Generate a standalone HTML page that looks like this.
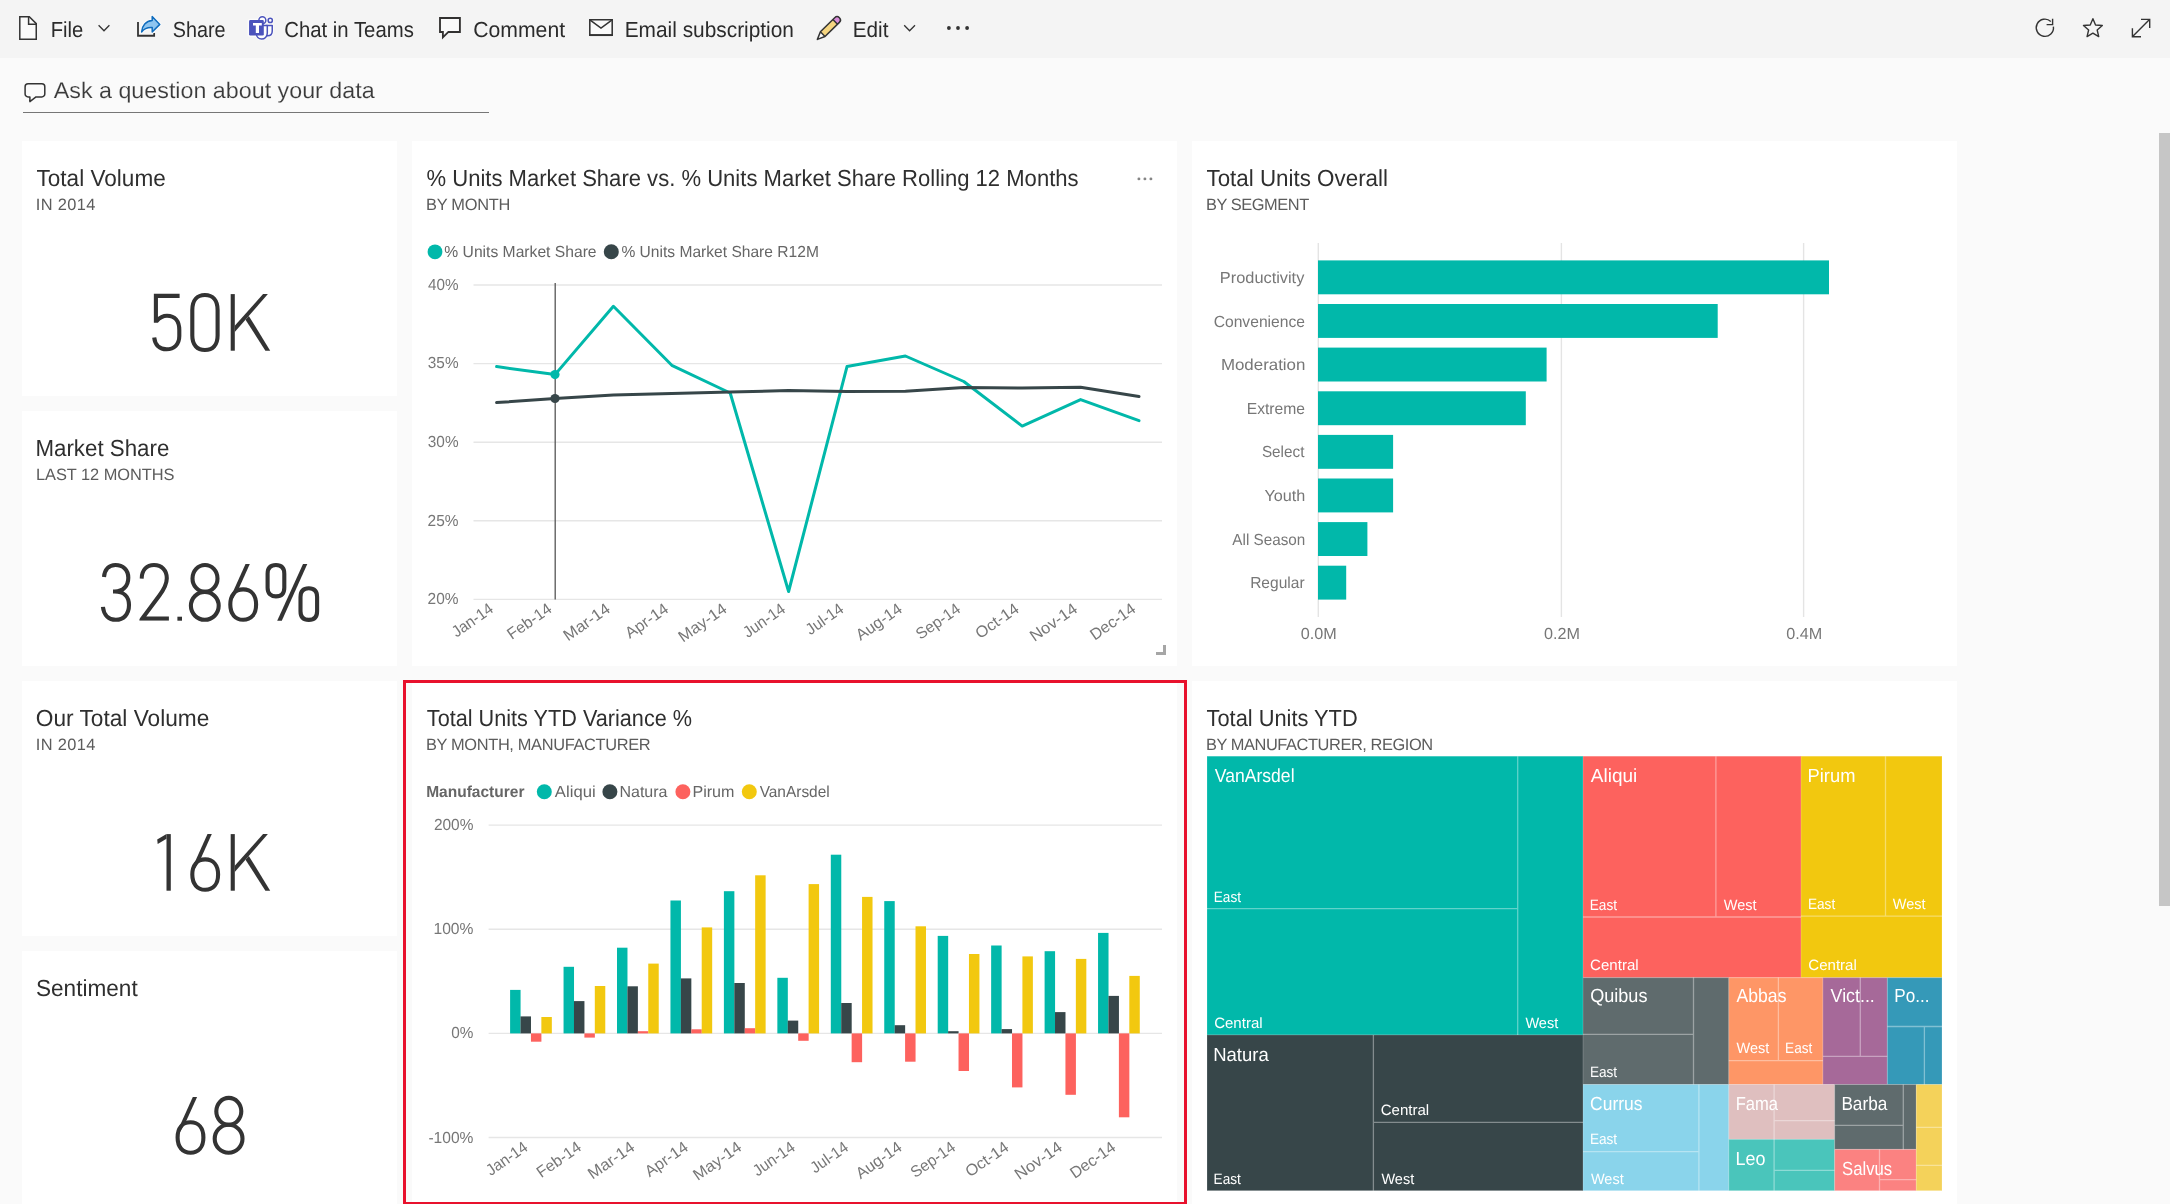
<!DOCTYPE html>
<html lang="en">
<head>
<meta charset="utf-8">
<title>Sales and Marketing Sample - Power BI</title>
<style>
html,body{margin:0;padding:0;background:#fafafa;overflow:hidden;}
body{width:2170px;height:1204px;position:relative;font-family:"Liberation Sans",sans-serif;}
svg{position:absolute;left:0;top:0;display:block;will-change:transform;}
text{font-family:"Liberation Sans",sans-serif;text-rendering:geometricPrecision;}
</style>
</head>
<body>
<svg width="2170" height="1204" viewBox="0 0 2170 1204">
<rect x="0" y="0" width="2170" height="1204" fill="#fafafa"/>
<rect x="0" y="0" width="2170" height="58" fill="#f4f4f4"/>
<rect x="2159" y="133" width="11" height="773" fill="#c6c6c6"/>
<rect x="22" y="141" width="375" height="255" fill="#ffffff"/>
<rect x="22" y="411" width="375" height="255" fill="#ffffff"/>
<rect x="22" y="681" width="375" height="255" fill="#ffffff"/>
<rect x="22" y="951" width="375" height="255" fill="#ffffff"/>
<rect x="412" y="141" width="765" height="525" fill="#ffffff"/>
<rect x="1192" y="141" width="765" height="525" fill="#ffffff"/>
<rect x="412" y="681" width="765" height="525" fill="#ffffff"/>
<rect x="1192" y="681" width="765" height="525" fill="#ffffff"/>
<rect x="404.5" y="681.5" width="781" height="522" fill="none" stroke="#e8112d" stroke-width="3"/>
<g id="topbar" fill="none" stroke="#333" stroke-width="1.5" stroke-linejoin="miter">
<path d="M19.8 16.8 H29.3 L36.25 23.6 V39.2 H19.8 Z" fill="#fafafa"/>
<path d="M28.6 16.8 V24.2 H36.25"/>
<path d="M98.6 25.2 L104 30.8 L109.4 25.2" stroke-width="1.3"/>
<path d="M904.2 25.2 L909.6 30.8 L915 25.2" stroke-width="1.3"/>
<path d="M138 22.1 V35.75 H154.15 V32.9" stroke-width="1.8"/>
<path d="M152.2 16.6 L159.8 24.4 L152.2 32 V27.6 C147.5 27.3 144 28.8 141.6 32 C142 25.6 146 21 152.2 20.6 Z" fill="none" stroke="#fcfcfc" stroke-width="3.2" stroke-linejoin="round"/>
<path d="M152.2 16.6 L159.8 24.4 L152.2 32 V27.6 C147.5 27.3 144 28.8 141.6 32 C142 25.6 146 21 152.2 20.6 Z" fill="#8ec5f0" stroke="#0f6cbd" stroke-width="1.5" stroke-linejoin="round"/>
<g fill="#fdfdfd" stroke="#fcfcfc" stroke-width="2.9" stroke-linejoin="round">
<circle cx="270.25" cy="20.4" r="2.1"/><path d="M266.5 25.55 H272.25 V31 C272.25 34 270.4 35.75 267.6 35.75 H266.5 Z"/>
<circle cx="262.35" cy="20.2" r="3.5"/><path d="M256.4 25.55 H267.3 V33 C267.3 36.7 264.6 39.05 261.6 39.05 C258.6 39.05 256.4 36.9 256.4 33.6 Z"/>
<rect x="249.05" y="20.1" width="14.75" height="15.4" rx="1.3"/>
</g>
<g fill="#fdfdfd" stroke="#4b53bc" stroke-width="1.5" stroke-linejoin="round">
<circle cx="270.25" cy="20.4" r="2.1"/>
<path d="M266.5 25.55 H272.25 V31 C272.25 34 270.4 35.75 267.6 35.75 H266.5 Z"/>
<circle cx="262.35" cy="20.2" r="3.5"/>
<path d="M256.4 25.55 H267.3 V33 C267.3 36.7 264.6 39.05 261.6 39.05 C258.6 39.05 256.4 36.9 256.4 33.6 Z"/>
<rect x="249.05" y="20.1" width="14.75" height="15.4" rx="1.3" fill="#4b53bc" stroke="none"/>
<path d="M253 23 H261.8 V25.6 H259 V33 H255.8 V25.6 H253 Z" fill="#ffffff" stroke="none"/>
</g>
<path d="M440 18 H459.9 V31.95 H448.4 L442.9 37.4 V31.95 H440 Z" stroke-width="1.85" fill="#fafafa" stroke="#323130"/>
<path d="M589.8 19.8 H612.2 V35.1 H589.8 Z" stroke-width="1.55" fill="#fafafa"/><path d="M589.4 35.15 H612.6" stroke-width="1.8"/><path d="M590.2 20.2 L601 28.1 L611.8 20.2" stroke-width="1.5"/>
<path d="M820.4 31.8 L832.9 19.5 L837.5 24.2 L825 36.5 Z" fill="#f5d580" stroke="none"/>
<path d="M832.9 19.5 L834.7 17.7 A3.3 3.3 0 0 1 839.4 22.4 L837.5 24.2 Z" fill="#d88bd8" stroke="none"/>
<path d="M820.4 31.8 L825 36.5 L817.4 39.4 Z" fill="#fafafa" stroke="none"/>
<path d="M820.4 31.8 L834.7 17.7 A3.3 3.3 0 0 1 839.4 22.4 L825 36.5 L817.4 39.4 Z M832.9 19.5 L837.5 24.2 M820.4 31.8 L825 36.5" stroke-width="1.5" stroke-linejoin="round"/>
<g stroke="none" fill="#333"><circle cx="948.9" cy="28" r="1.9"/><circle cx="958" cy="28" r="1.9"/><circle cx="967.1" cy="28" r="1.9"/></g>
<path d="M2050.8 21.5 A8.6 8.6 0 1 0 2053.4 26.6" stroke-width="1.4"/>
<path d="M2052.6 18.8 V24.6 H2046.6" stroke-width="1.4"/>
<polygon points="2092.90,18.70 2095.55,24.96 2102.32,25.54 2097.18,29.99 2098.72,36.61 2092.90,33.10 2087.08,36.61 2088.62,29.99 2083.48,25.54 2090.25,24.96" stroke-width="1.4" stroke-linejoin="round"/>
<path d="M2141 19.4 H2149.7 V28 M2149.5 19.6 L2132.6 36.5 M2132.4 28.2 V36.7 H2141" stroke-width="1.4"/>
</g>
<g id="topbar-text">
<text x="50.74" y="37.2" font-size="21.8" fill="#2b2b2b" textLength="32.56" lengthAdjust="spacingAndGlyphs">File</text>
<text x="172.7" y="37.2" font-size="21.8" fill="#2b2b2b" textLength="52.78" lengthAdjust="spacingAndGlyphs">Share</text>
<text x="284.29" y="37.2" font-size="21.8" fill="#2b2b2b" textLength="129.53" lengthAdjust="spacingAndGlyphs">Chat in Teams</text>
<text x="473.22" y="37.2" font-size="21.8" fill="#2b2b2b" textLength="91.83" lengthAdjust="spacingAndGlyphs">Comment</text>
<text x="624.69" y="37.2" font-size="21.8" fill="#2b2b2b" textLength="169.27" lengthAdjust="spacingAndGlyphs">Email subscription</text>
<text x="852.8" y="37.2" font-size="21.8" fill="#2b2b2b" textLength="35.65" lengthAdjust="spacingAndGlyphs">Edit</text>
</g>
<g id="qna" fill="none" stroke="#444" stroke-width="1.4">
<path d="M28.1 83.8 H41.8 A3 3 0 0 1 44.8 86.8 V93.9 A3 3 0 0 1 41.8 96.9 H36 L29.9 101.6 V96.9 H28.1 A3 3 0 0 1 25.1 93.9 V86.8 A3 3 0 0 1 28.1 83.8 Z" stroke="#333" stroke-width="1.5" stroke-linejoin="round"/>
<path d="M23 112.5 H489" stroke="#767676" stroke-width="1.2"/>
</g>
<text x="53.75" y="98.2" font-size="22.5" fill="#3a3a3a" textLength="320.85" lengthAdjust="spacingAndGlyphs" stroke="#fafafa" stroke-width="0.15">Ask a question about your data</text>
<text x="36.51" y="186" font-size="23.26" fill="#2f2f2f" textLength="129.27" lengthAdjust="spacingAndGlyphs">Total Volume</text>
<text x="35.79" y="210" font-size="16.4" fill="#5c5c5c" textLength="59.69" lengthAdjust="spacing">IN 2014</text>
<text x="35.47" y="456" font-size="23.26" fill="#2f2f2f" textLength="133.82" lengthAdjust="spacingAndGlyphs">Market Share</text>
<text x="35.95" y="480" font-size="16.4" fill="#5c5c5c" textLength="138.6" lengthAdjust="spacing">LAST 12 MONTHS</text>
<text x="35.75" y="726" font-size="23.26" fill="#2f2f2f" textLength="173.63" lengthAdjust="spacingAndGlyphs">Our Total Volume</text>
<text x="35.79" y="750" font-size="16.4" fill="#5c5c5c" textLength="59.69" lengthAdjust="spacing">IN 2014</text>
<text x="35.97" y="996" font-size="23.26" fill="#2f2f2f" textLength="101.69" lengthAdjust="spacingAndGlyphs">Sentiment</text>
<defs><clipPath id="clip2"><rect x="0.4" y="-2" width="31" height="58.6"/></clipPath></defs>
<g fill="none" stroke="#333" stroke-width="4.1">
<g transform="translate(152 294.1)"><path d="M27.6 1.75 H3.9 V28.7 M4.6 27 C8 23.2 11.2 21.7 15 21.7 C23 21.7 27.3 27 27.3 36 V42 C27.3 50.4 22 55.2 14.6 55.2 C7.6 55.2 3 51 2.2 43.4" /></g>
<g transform="translate(190.2 294.1)"><path d="M2.1 16 C2.1 6 7 0.9 14.75 0.9 C22.5 0.9 27.4 6 27.4 16 V41.4 C27.4 51 22.5 55.9 14.75 55.9 C7 55.9 2.1 51 2.1 41.4 Z"/></g>
<g transform="translate(230.7 294.1)"><g stroke="none" fill="#333"><rect x="0" y="0" width="4.1" height="56.6"/><polygon points="32.4,0 37.2,0 4.05,37.9 4.05,31.6"/><polygon points="14.8,25.6 18.1,21.8 39.5,56.6 34.7,56.6"/></g></g>
</g>
<g fill="none" stroke="#333" stroke-width="4.1">
<g transform="translate(100.8 564.1)"><path d="M3.2 12.9 C4 5 8.5 0.9 14.6 0.9 C22.3 0.9 27.5 5.8 27.5 13.6 C27.5 22 22 27.4 14 27.4 H12.2 M14 27.4 C23 27.4 28.2 32.6 28.2 41 C28.2 50.4 22.6 55.7 15 55.7 C8 55.7 3 51.2 2.1 42.8"/></g>
<g transform="translate(139 564.1)"><path clip-path="url(#clip2)" d="M2.6 14.6 C3 5.6 8 0.9 15 0.9 C22.6 0.9 27.8 6 27.8 14.2 C27.8 20.6 25.2 25 20.4 31.4 L3.2 54.5 H29.9" stroke-linejoin="miter"/></g>
<g transform="translate(177.4 564.1)"><rect x="0" y="52.6" width="4.6" height="4" stroke="none" fill="#333"/></g>
<g transform="translate(188.8 564.1)"><ellipse cx="16.2" cy="14.35" rx="12.5" ry="13.45"/><ellipse cx="16" cy="41.75" rx="13.9" ry="13.95"/></g>
<g transform="translate(228.2 564.1)"><path d="M2.0999999999999996 40.5 C2.0999999999999996 31.08 7.00 25.3 15 25.3 C23.00 25.3 27.9 31.08 27.9 40.5 C27.9 49.92 23.00 55.7 15 55.7 C7.00 55.7 2.0999999999999996 49.92 2.0999999999999996 40.5 Z"/><polygon points="17.3,0 21.6,0 9.6,26.6 4.3,35.5 2.9,32" stroke="none" fill="#333"/><path d="M19.45 0 L6.2 28.8 C3.6 34.5 2.1 37.2 2.1 40.5" stroke-linecap="butt" stroke="none"/></g>
<g transform="translate(265.6 564.1)"><path d="M2 9.6 C2 3.6 5.4 0.9 10.35 0.9 C15.3 0.9 18.7 3.6 18.7 9.6 V23.6 C18.7 29.6 15.3 32.3 10.35 32.3 C5.4 32.3 2 29.6 2 23.6 Z"/><path d="M34.9 32.9 C34.9 26.9 38.3 24.2 43.2 24.2 C48.1 24.2 51.5 26.9 51.5 32.9 V47.1 C51.5 53.1 48.1 55.8 43.2 55.8 C38.3 55.8 34.9 53.1 34.9 47.1 Z"/><polygon points="37.4,0 41.7,0 16.2,56.6 11.6,56.6" stroke="none" fill="#333"/></g>
</g>
<g fill="none" stroke="#333" stroke-width="4.1">
<g transform="translate(157.2 834.1)"><g stroke="none" fill="#333"><rect x="9.3" y="0" width="4.3" height="56.6"/><polygon points="9.3,0 0,5.3 0.5,9.9 9.3,4.6"/></g></g>
<g transform="translate(190.2 834.1)"><path d="M2.0999999999999996 40.5 C2.0999999999999996 31.08 7.00 25.3 15 25.3 C23.00 25.3 27.9 31.08 27.9 40.5 C27.9 49.92 23.00 55.7 15 55.7 C7.00 55.7 2.0999999999999996 49.92 2.0999999999999996 40.5 Z"/><polygon points="17.3,0 21.6,0 9.6,26.6 4.3,35.5 2.9,32" stroke="none" fill="#333"/><path d="M19.45 0 L6.2 28.8 C3.6 34.5 2.1 37.2 2.1 40.5" stroke-linecap="butt" stroke="none"/></g>
<g transform="translate(230.7 834.1)"><g stroke="none" fill="#333"><rect x="0" y="0" width="4.1" height="56.6"/><polygon points="32.4,0 37.2,0 4.05,37.9 4.05,31.6"/><polygon points="14.8,25.6 18.1,21.8 39.5,56.6 34.7,56.6"/></g></g>
</g>
<g fill="none" stroke="#333" stroke-width="4.1">
<g transform="translate(175.5 1097)"><path d="M2.0999999999999996 40.5 C2.0999999999999996 31.08 7.00 25.3 15 25.3 C23.00 25.3 27.9 31.08 27.9 40.5 C27.9 49.92 23.00 55.7 15 55.7 C7.00 55.7 2.0999999999999996 49.92 2.0999999999999996 40.5 Z"/><polygon points="17.3,0 21.6,0 9.6,26.6 4.3,35.5 2.9,32" stroke="none" fill="#333"/><path d="M19.45 0 L6.2 28.8 C3.6 34.5 2.1 37.2 2.1 40.5" stroke-linecap="butt" stroke="none"/></g>
<g transform="translate(212.6 1097)"><ellipse cx="16.2" cy="14.35" rx="12.5" ry="13.45"/><ellipse cx="16" cy="41.75" rx="13.9" ry="13.95"/></g>
</g>
<g id="tile-linechart">
<text x="426.51" y="186" font-size="23.26" fill="#2f2f2f" textLength="652.08" lengthAdjust="spacingAndGlyphs">% Units Market Share vs. % Units Market Share Rolling 12 Months</text>
<text x="425.95" y="210" font-size="16.4" fill="#5c5c5c" textLength="84.48" lengthAdjust="spacing">BY MONTH</text>
<g fill="#858585"><circle cx="1138.9" cy="178.9" r="1.45"/><circle cx="1144.9" cy="178.9" r="1.45"/><circle cx="1150.9" cy="178.9" r="1.45"/></g>
<circle cx="435" cy="251.8" r="7.4" fill="#01b8aa"/>
<text x="444.34" y="256.8" font-size="16" fill="#666" textLength="152.25" lengthAdjust="spacingAndGlyphs">% Units Market Share</text>
<circle cx="611.3" cy="251.8" r="7.5" fill="#374649"/>
<text x="621.44" y="256.8" font-size="16" fill="#666" textLength="197.43" lengthAdjust="spacingAndGlyphs">% Units Market Share R12M</text>
<path d="M473.5 285 H1162" stroke="#e6e6e6" stroke-width="1.4" fill="none"/>
<text x="428.05" y="289.8" font-size="16" fill="#777777" textLength="30.49" lengthAdjust="spacingAndGlyphs">40%</text>
<path d="M473.5 363.6 H1162" stroke="#e6e6e6" stroke-width="1.4" fill="none"/>
<text x="427.82" y="368.40000000000003" font-size="16" fill="#777777" textLength="30.73" lengthAdjust="spacingAndGlyphs">35%</text>
<path d="M473.5 442.2 H1162" stroke="#e6e6e6" stroke-width="1.4" fill="none"/>
<text x="427.82" y="447.0" font-size="16" fill="#777777" textLength="30.73" lengthAdjust="spacingAndGlyphs">30%</text>
<path d="M473.5 520.8 H1162" stroke="#e6e6e6" stroke-width="1.4" fill="none"/>
<text x="427.62" y="525.5999999999999" font-size="16" fill="#777777" textLength="30.93" lengthAdjust="spacingAndGlyphs">25%</text>
<path d="M473.5 599.4 H1162" stroke="#e6e6e6" stroke-width="1.4" fill="none"/>
<text x="427.62" y="604.1999999999999" font-size="16" fill="#777777" textLength="30.93" lengthAdjust="spacingAndGlyphs">20%</text>
<path d="M555.2 283 V599.4" stroke="#555" stroke-width="1.3" fill="none"/>
<polyline points="496.6,366.6 555.0,374.6 613.4,306.3 671.8,365.3 730.2,393.0 788.6,591.5 847.0,366.6 905.4,356.0 963.8,381.5 1022.2,426.1 1080.6,399.6 1139.0,420.7" fill="none" stroke="#01b8aa" stroke-width="3" stroke-linejoin="round" stroke-linecap="round"/>
<polyline points="496.6,402.6 555.0,398.5 613.4,394.9 671.8,393.5 730.2,392.1 788.6,390.5 847.0,391.6 905.4,391.3 963.8,387.5 1022.2,388.0 1080.6,387.2 1139.0,396.5" fill="none" stroke="#374649" stroke-width="3" stroke-linejoin="round" stroke-linecap="round"/>
<circle cx="555.0" cy="374.6" r="4.6" fill="#01b8aa"/>
<circle cx="555.0" cy="398.5" r="4.6" fill="#374649"/>
<text transform="translate(494.46 611.25) rotate(-35)" x="0" y="0" font-size="16" fill="#777777" textLength="46.38" lengthAdjust="spacingAndGlyphs" text-anchor="end">Jan-14</text>
<text transform="translate(552.88 611.24) rotate(-35)" x="0" y="0" font-size="16" fill="#777777" textLength="50.16" lengthAdjust="spacingAndGlyphs" text-anchor="end">Feb-14</text>
<text transform="translate(611.3 611.22) rotate(-35)" x="0" y="0" font-size="16" fill="#777777" textLength="52.75" lengthAdjust="spacingAndGlyphs" text-anchor="end">Mar-14</text>
<text transform="translate(669.69 611.23) rotate(-35)" x="0" y="0" font-size="16" fill="#777777" textLength="48.61" lengthAdjust="spacingAndGlyphs" text-anchor="end">Apr-14</text>
<text transform="translate(728.09 611.22) rotate(-35)" x="0" y="0" font-size="16" fill="#777777" textLength="54.93" lengthAdjust="spacingAndGlyphs" text-anchor="end">May-14</text>
<text transform="translate(786.47 611.24) rotate(-35)" x="0" y="0" font-size="16" fill="#777777" textLength="47.29" lengthAdjust="spacingAndGlyphs" text-anchor="end">Jun-14</text>
<text transform="translate(844.87 611.24) rotate(-35)" x="0" y="0" font-size="16" fill="#777777" textLength="42.2" lengthAdjust="spacingAndGlyphs" text-anchor="end">Jul-14</text>
<text transform="translate(903.29 611.23) rotate(-35)" x="0" y="0" font-size="16" fill="#777777" textLength="52.1" lengthAdjust="spacingAndGlyphs" text-anchor="end">Aug-14</text>
<text transform="translate(961.68 611.24) rotate(-35)" x="0" y="0" font-size="16" fill="#777777" textLength="50.26" lengthAdjust="spacingAndGlyphs" text-anchor="end">Sep-14</text>
<text transform="translate(1020.09 611.22) rotate(-35)" x="0" y="0" font-size="16" fill="#777777" textLength="48.95" lengthAdjust="spacingAndGlyphs" text-anchor="end">Oct-14</text>
<text transform="translate(1078.5 611.22) rotate(-35)" x="0" y="0" font-size="16" fill="#777777" textLength="53.76" lengthAdjust="spacingAndGlyphs" text-anchor="end">Nov-14</text>
<text transform="translate(1136.89 611.23) rotate(-35)" x="0" y="0" font-size="16" fill="#777777" textLength="51.58" lengthAdjust="spacingAndGlyphs" text-anchor="end">Dec-14</text>
<path d="M1156 652 H1163 V645 H1166 V655 H1156 Z" fill="#a6a6a6"/>
</g>
<g id="tile-barchart">
<text x="1206.5" y="186" font-size="23.26" fill="#2f2f2f" textLength="181.47" lengthAdjust="spacingAndGlyphs">Total Units Overall</text>
<text x="1205.95" y="210" font-size="16.4" fill="#5c5c5c" textLength="103.22" lengthAdjust="spacing">BY SEGMENT</text>
<path d="M1318.3 243 V617" stroke="#e4e4e4" stroke-width="1.4" fill="none"/>
<text x="1318.85" y="638.7" font-size="16" fill="#777777" textLength="35.96" lengthAdjust="spacingAndGlyphs" text-anchor="middle">0.0M</text>
<path d="M1561.4 243 V617" stroke="#e4e4e4" stroke-width="1.4" fill="none"/>
<text x="1561.95" y="638.7" font-size="16" fill="#777777" textLength="35.96" lengthAdjust="spacingAndGlyphs" text-anchor="middle">0.2M</text>
<path d="M1803.6 243 V617" stroke="#e4e4e4" stroke-width="1.4" fill="none"/>
<text x="1804.15" y="638.7" font-size="16" fill="#777777" textLength="35.96" lengthAdjust="spacingAndGlyphs" text-anchor="middle">0.4M</text>
<rect x="1318" y="260.4" width="511.0" height="33.9" fill="#01b8aa"/>
<text x="1304.33" y="282.9" font-size="16" fill="#777777" textLength="84.47" lengthAdjust="spacingAndGlyphs" text-anchor="end">Productivity</text>
<rect x="1318" y="304.0" width="399.7" height="33.9" fill="#01b8aa"/>
<text x="1304.99" y="326.6" font-size="16" fill="#777777" textLength="91.29" lengthAdjust="spacingAndGlyphs" text-anchor="end">Convenience</text>
<rect x="1318" y="347.6" width="228.6" height="33.9" fill="#01b8aa"/>
<text x="1305.4" y="370.2" font-size="16" fill="#777777" textLength="84.48" lengthAdjust="spacingAndGlyphs" text-anchor="end">Moderation</text>
<rect x="1318" y="391.3" width="207.8" height="33.9" fill="#01b8aa"/>
<text x="1305.0" y="413.8" font-size="16" fill="#777777" textLength="58.28" lengthAdjust="spacingAndGlyphs" text-anchor="end">Extreme</text>
<rect x="1318" y="434.9" width="75.1" height="33.9" fill="#01b8aa"/>
<text x="1304.41" y="457.4" font-size="16" fill="#777777" textLength="42.51" lengthAdjust="spacingAndGlyphs" text-anchor="end">Select</text>
<rect x="1318" y="478.5" width="75.1" height="33.9" fill="#01b8aa"/>
<text x="1305.32" y="501.1" font-size="16" fill="#777777" textLength="40.86" lengthAdjust="spacingAndGlyphs" text-anchor="end">Youth</text>
<rect x="1318" y="522.1" width="49.4" height="33.9" fill="#01b8aa"/>
<text x="1305.29" y="544.7" font-size="16" fill="#777777" textLength="72.92" lengthAdjust="spacingAndGlyphs" text-anchor="end">All Season</text>
<rect x="1318" y="565.7" width="28.2" height="33.9" fill="#01b8aa"/>
<text x="1304.56" y="588.3" font-size="16" fill="#777777" textLength="54.43" lengthAdjust="spacingAndGlyphs" text-anchor="end">Regular</text>
</g>
<g id="tile-colchart">
<text x="426.82" y="726" font-size="23.26" fill="#2f2f2f" textLength="265.24" lengthAdjust="spacingAndGlyphs">Total Units YTD Variance %</text>
<text x="425.95" y="750" font-size="16.4" fill="#5c5c5c" textLength="224.61" lengthAdjust="spacing">BY MONTH, MANUFACTURER</text>
<text x="426.16" y="797" font-size="16" fill="#666" textLength="98.27" lengthAdjust="spacingAndGlyphs" font-weight="bold">Manufacturer</text>
<circle cx="544.3" cy="791.7" r="7.5" fill="#01b8aa"/>
<text x="554.87" y="796.8" font-size="16" fill="#666" textLength="40.76" lengthAdjust="spacingAndGlyphs">Aliqui</text>
<circle cx="609.9" cy="791.7" r="7.5" fill="#374649"/>
<text x="619.49" y="796.8" font-size="16" fill="#666" textLength="48.01" lengthAdjust="spacingAndGlyphs">Natura</text>
<circle cx="682.9" cy="791.7" r="7.5" fill="#fd625e"/>
<text x="692.48" y="796.8" font-size="16" fill="#666" textLength="41.98" lengthAdjust="spacingAndGlyphs">Pirum</text>
<circle cx="749.3" cy="791.7" r="7.5" fill="#f2c80f"/>
<text x="759.63" y="796.8" font-size="16" fill="#666" textLength="70.08" lengthAdjust="spacingAndGlyphs">VanArsdel</text>
<path d="M488.6 825.1 H1162" stroke="#e6e6e6" stroke-width="1.4" fill="none"/>
<text x="473.45" y="830.1" font-size="16" fill="#777777" textLength="39.53" lengthAdjust="spacingAndGlyphs" text-anchor="end">200%</text>
<path d="M488.6 929.2 H1162" stroke="#e6e6e6" stroke-width="1.4" fill="none"/>
<text x="473.46" y="934.2" font-size="16" fill="#777777" textLength="39.95" lengthAdjust="spacingAndGlyphs" text-anchor="end">100%</text>
<path d="M488.6 1033.4 H1162" stroke="#e6e6e6" stroke-width="1.4" fill="none"/>
<text x="473.45" y="1038.4" font-size="16" fill="#777777" textLength="22.14" lengthAdjust="spacingAndGlyphs" text-anchor="end">0%</text>
<path d="M488.6 1137.5 H1162" stroke="#e6e6e6" stroke-width="1.4" fill="none"/>
<text x="473.46" y="1142.5" font-size="16" fill="#777777" textLength="45.05" lengthAdjust="spacingAndGlyphs" text-anchor="end">-100%</text>
<rect x="510.10" y="989.9" width="10.47" height="43.5" fill="#01b8aa"/>
<rect x="520.52" y="1016.4" width="10.47" height="17.0" fill="#374649"/>
<rect x="530.94" y="1033.4" width="10.47" height="8.3" fill="#fd625e"/>
<rect x="541.36" y="1017.0" width="10.47" height="16.4" fill="#f2c80f"/>
<text transform="translate(528.86 1149.55) rotate(-35)" x="0" y="0" font-size="16" fill="#777777" textLength="46.38" lengthAdjust="spacingAndGlyphs" text-anchor="end">Jan-14</text>
<rect x="563.55" y="966.8" width="10.47" height="66.6" fill="#01b8aa"/>
<rect x="573.97" y="1001.1" width="10.47" height="32.3" fill="#374649"/>
<rect x="584.39" y="1033.4" width="10.47" height="4.2" fill="#fd625e"/>
<rect x="594.81" y="986.0" width="10.47" height="47.4" fill="#f2c80f"/>
<text transform="translate(582.38 1149.54) rotate(-35)" x="0" y="0" font-size="16" fill="#777777" textLength="50.16" lengthAdjust="spacingAndGlyphs" text-anchor="end">Feb-14</text>
<rect x="617.00" y="947.7" width="10.47" height="85.7" fill="#01b8aa"/>
<rect x="627.42" y="986.3" width="10.47" height="47.1" fill="#374649"/>
<rect x="637.84" y="1031.2" width="10.47" height="2.2" fill="#fd625e"/>
<rect x="648.26" y="963.6" width="10.47" height="69.8" fill="#f2c80f"/>
<text transform="translate(635.8 1149.52) rotate(-35)" x="0" y="0" font-size="16" fill="#777777" textLength="52.75" lengthAdjust="spacingAndGlyphs" text-anchor="end">Mar-14</text>
<rect x="670.45" y="900.5" width="10.47" height="132.9" fill="#01b8aa"/>
<rect x="680.87" y="978.4" width="10.47" height="55.0" fill="#374649"/>
<rect x="691.29" y="1029.3" width="10.47" height="4.1" fill="#fd625e"/>
<rect x="701.71" y="927.4" width="10.47" height="106.0" fill="#f2c80f"/>
<text transform="translate(689.29 1149.53) rotate(-35)" x="0" y="0" font-size="16" fill="#777777" textLength="48.61" lengthAdjust="spacingAndGlyphs" text-anchor="end">Apr-14</text>
<rect x="723.90" y="891.2" width="10.47" height="142.2" fill="#01b8aa"/>
<rect x="734.32" y="983.0" width="10.47" height="50.4" fill="#374649"/>
<rect x="744.74" y="1028.2" width="10.47" height="5.2" fill="#fd625e"/>
<rect x="755.16" y="875.3" width="10.47" height="158.1" fill="#f2c80f"/>
<text transform="translate(742.69 1149.52) rotate(-35)" x="0" y="0" font-size="16" fill="#777777" textLength="54.93" lengthAdjust="spacingAndGlyphs" text-anchor="end">May-14</text>
<rect x="777.35" y="977.8" width="10.47" height="55.6" fill="#01b8aa"/>
<rect x="787.77" y="1020.6" width="10.47" height="12.8" fill="#374649"/>
<rect x="798.19" y="1033.4" width="10.47" height="7.4" fill="#fd625e"/>
<rect x="808.61" y="884.1" width="10.47" height="149.3" fill="#f2c80f"/>
<text transform="translate(796.17 1149.54) rotate(-35)" x="0" y="0" font-size="16" fill="#777777" textLength="47.29" lengthAdjust="spacingAndGlyphs" text-anchor="end">Jun-14</text>
<rect x="830.80" y="854.7" width="10.47" height="178.7" fill="#01b8aa"/>
<rect x="841.22" y="1003.0" width="10.47" height="30.4" fill="#374649"/>
<rect x="851.64" y="1033.4" width="10.47" height="28.8" fill="#fd625e"/>
<rect x="862.06" y="896.9" width="10.47" height="136.5" fill="#f2c80f"/>
<text transform="translate(849.57 1149.54) rotate(-35)" x="0" y="0" font-size="16" fill="#777777" textLength="42.2" lengthAdjust="spacingAndGlyphs" text-anchor="end">Jul-14</text>
<rect x="884.25" y="901.1" width="10.47" height="132.3" fill="#01b8aa"/>
<rect x="894.67" y="1025.2" width="10.47" height="8.2" fill="#374649"/>
<rect x="905.09" y="1033.4" width="10.47" height="28.3" fill="#fd625e"/>
<rect x="915.51" y="926.3" width="10.47" height="107.1" fill="#f2c80f"/>
<text transform="translate(903.09 1149.53) rotate(-35)" x="0" y="0" font-size="16" fill="#777777" textLength="52.1" lengthAdjust="spacingAndGlyphs" text-anchor="end">Aug-14</text>
<rect x="937.70" y="935.9" width="10.47" height="97.5" fill="#01b8aa"/>
<rect x="948.12" y="1031.2" width="10.47" height="2.2" fill="#374649"/>
<rect x="958.54" y="1033.4" width="10.47" height="37.6" fill="#fd625e"/>
<rect x="968.96" y="954.0" width="10.47" height="79.4" fill="#f2c80f"/>
<text transform="translate(956.48 1149.54) rotate(-35)" x="0" y="0" font-size="16" fill="#777777" textLength="50.26" lengthAdjust="spacingAndGlyphs" text-anchor="end">Sep-14</text>
<rect x="991.15" y="945.5" width="10.47" height="87.9" fill="#01b8aa"/>
<rect x="1001.57" y="1029.1" width="10.47" height="4.3" fill="#374649"/>
<rect x="1011.99" y="1033.4" width="10.47" height="54.0" fill="#fd625e"/>
<rect x="1022.41" y="956.4" width="10.47" height="77.0" fill="#f2c80f"/>
<text transform="translate(1009.99 1149.52) rotate(-35)" x="0" y="0" font-size="16" fill="#777777" textLength="48.95" lengthAdjust="spacingAndGlyphs" text-anchor="end">Oct-14</text>
<rect x="1044.60" y="951.2" width="10.47" height="82.2" fill="#01b8aa"/>
<rect x="1055.02" y="1012.1" width="10.47" height="21.3" fill="#374649"/>
<rect x="1065.44" y="1033.4" width="10.47" height="61.4" fill="#fd625e"/>
<rect x="1075.86" y="958.9" width="10.47" height="74.5" fill="#f2c80f"/>
<text transform="translate(1063.4 1149.52) rotate(-35)" x="0" y="0" font-size="16" fill="#777777" textLength="53.76" lengthAdjust="spacingAndGlyphs" text-anchor="end">Nov-14</text>
<rect x="1098.05" y="932.9" width="10.47" height="100.5" fill="#01b8aa"/>
<rect x="1108.47" y="995.9" width="10.47" height="37.5" fill="#374649"/>
<rect x="1118.89" y="1033.4" width="10.47" height="83.9" fill="#fd625e"/>
<rect x="1129.31" y="975.9" width="10.47" height="57.5" fill="#f2c80f"/>
<text transform="translate(1116.89 1149.53) rotate(-35)" x="0" y="0" font-size="16" fill="#777777" textLength="51.58" lengthAdjust="spacingAndGlyphs" text-anchor="end">Dec-14</text>
</g>
<g id="tile-treemap">
<text x="1206.52" y="726" font-size="23.26" fill="#2f2f2f" textLength="151.21" lengthAdjust="spacingAndGlyphs">Total Units YTD</text>
<text x="1205.95" y="750" font-size="16.4" fill="#5c5c5c" textLength="227.18" lengthAdjust="spacing">BY MANUFACTURER, REGION</text>
<rect x="1207" y="756.2" width="376" height="278.7" fill="#01b8aa"/>
<rect x="1207" y="1034.9" width="376" height="155.8" fill="#374649"/>
<rect x="1583" y="756.2" width="218" height="221.4" fill="#fd625e"/>
<rect x="1801" y="756.2" width="141" height="221.4" fill="#f2c80f"/>
<rect x="1583" y="977.6" width="145.8" height="106.9" fill="#5f6b6d"/>
<rect x="1728.8" y="977.6" width="94.1" height="106.9" fill="#fe9666"/>
<rect x="1822.9" y="977.6" width="64.4" height="106.9" fill="#a66999"/>
<rect x="1887.3" y="977.6" width="54.7" height="106.9" fill="#3599b8"/>
<rect x="1583" y="1084.5" width="145.8" height="106.2" fill="#8ad4eb"/>
<rect x="1728.8" y="1084.5" width="105.8" height="54.8" fill="#dfbfbf"/>
<rect x="1728.8" y="1139.3" width="105.8" height="51.4" fill="#4ac5bb"/>
<rect x="1834.6" y="1084.5" width="81.6" height="64.9" fill="#5f6b6d"/>
<rect x="1834.6" y="1149.4" width="81.6" height="41.3" fill="#fb8281"/>
<rect x="1916.2" y="1084.5" width="25.8" height="106.2" fill="#f4d25a"/>
<path d="M1517.7 756.2 V1034.9 M1207 908.7 H1517.7 M1373.4 1034.9 V1190.7 M1373.4 1122.3 H1583 M1715.9 756.2 V917 M1583 917 H1801 M1885.5 756.2 V916.2 M1801 916.2 H1942 M1693.5 977.6 V1084.5 M1583 1034.3 H1693.5 M1778.4 977.6 V1060.6 M1728.8 1060.6 H1822.9 M1860.3 977.6 V1056.3 M1822.9 1056.3 H1887.3 M1887.3 1026.5 H1942 M1924.4 1026.5 V1084.5 M1698.9 1084.5 V1190.7 M1583 1151.6 H1698.9 M1774.1 1084.5 V1139.3 M1774.1 1120.6 H1834.6 M1774.1 1139.3 V1190.7 M1774.1 1170.3 H1834.6 M1903.3 1084.5 V1149.4 M1834.6 1125.4 H1903.3 M1879.5 1149.4 V1190.7 M1879.5 1179.7 H1916.2 M1916.2 1127.4 H1942 M1916.2 1165.4 H1942" stroke="#ffffff" stroke-opacity="0.38" stroke-width="1.3" fill="none"/>
<path d="M1207 756.2 H1583 V1034.9 H1207 Z M1207 1034.9 H1583 V1190.7 H1207 Z M1583 756.2 H1801 V977.6 H1583 Z M1801 756.2 H1942 V977.6 H1801 Z M1583 977.6 H1728.8 V1084.5 H1583 Z M1728.8 977.6 H1822.9 V1084.5 H1728.8 Z M1822.9 977.6 H1887.3 V1084.5 H1822.9 Z M1887.3 977.6 H1942 V1084.5 H1887.3 Z M1583 1084.5 H1728.8 V1190.7 H1583 Z M1728.8 1084.5 H1834.6 V1139.3 H1728.8 Z M1728.8 1139.3 H1834.6 V1190.7 H1728.8 Z M1834.6 1084.5 H1916.2 V1149.4 H1834.6 Z M1834.6 1149.4 H1916.2 V1190.7 H1834.6 Z M1916.2 1084.5 H1942 V1190.7 H1916.2 Z" stroke="#ffffff" stroke-opacity="0.16" stroke-width="1.2" fill="none"/>
<text x="1214.82" y="781.9" font-size="19" fill="#ffffff" textLength="79.73" lengthAdjust="spacingAndGlyphs">VanArsdel</text>
<text x="1213.78" y="902" font-size="15" fill="#ffffff" textLength="27.22" lengthAdjust="spacingAndGlyphs">East</text>
<text x="1214.14" y="1027.9" font-size="15" fill="#ffffff" textLength="48.47" lengthAdjust="spacingAndGlyphs">Central</text>
<text x="1525.44" y="1027.9" font-size="15" fill="#ffffff" textLength="32.77" lengthAdjust="spacingAndGlyphs">West</text>
<text x="1213.18" y="1060.6" font-size="19" fill="#ffffff" textLength="55.52" lengthAdjust="spacingAndGlyphs">Natura</text>
<text x="1213.58" y="1183.5" font-size="15" fill="#ffffff" textLength="27.22" lengthAdjust="spacingAndGlyphs">East</text>
<text x="1380.74" y="1114.9" font-size="15" fill="#ffffff" textLength="48.47" lengthAdjust="spacingAndGlyphs">Central</text>
<text x="1381.44" y="1183.5" font-size="15" fill="#ffffff" textLength="32.77" lengthAdjust="spacingAndGlyphs">West</text>
<text x="1590.86" y="782" font-size="19" fill="#ffffff" textLength="46.42" lengthAdjust="spacingAndGlyphs">Aliqui</text>
<text x="1589.78" y="909.8" font-size="15" fill="#ffffff" textLength="27.22" lengthAdjust="spacingAndGlyphs">East</text>
<text x="1723.84" y="909.8" font-size="15" fill="#ffffff" textLength="32.77" lengthAdjust="spacingAndGlyphs">West</text>
<text x="1590.14" y="970" font-size="15" fill="#ffffff" textLength="48.47" lengthAdjust="spacingAndGlyphs">Central</text>
<text x="1807.6" y="782" font-size="19" fill="#ffffff" textLength="47.81" lengthAdjust="spacingAndGlyphs">Pirum</text>
<text x="1807.98" y="908.8" font-size="15" fill="#ffffff" textLength="27.22" lengthAdjust="spacingAndGlyphs">East</text>
<text x="1892.74" y="908.8" font-size="15" fill="#ffffff" textLength="32.77" lengthAdjust="spacingAndGlyphs">West</text>
<text x="1808.34" y="970" font-size="15" fill="#ffffff" textLength="48.47" lengthAdjust="spacingAndGlyphs">Central</text>
<text x="1590.14" y="1002.1" font-size="19" fill="#ffffff" textLength="57.31" lengthAdjust="spacingAndGlyphs">Quibus</text>
<text x="1589.88" y="1076.7" font-size="15" fill="#ffffff" textLength="27.22" lengthAdjust="spacingAndGlyphs">East</text>
<text x="1736.57" y="1002.1" font-size="19" fill="#ffffff" textLength="49.87" lengthAdjust="spacingAndGlyphs">Abbas</text>
<text x="1736.54" y="1052.8" font-size="15" fill="#ffffff" textLength="32.77" lengthAdjust="spacingAndGlyphs">West</text>
<text x="1785.08" y="1052.8" font-size="15" fill="#ffffff" textLength="27.22" lengthAdjust="spacingAndGlyphs">East</text>
<text x="1830.62" y="1002.1" font-size="19" fill="#ffffff" textLength="44.19" lengthAdjust="spacingAndGlyphs">Vict...</text>
<text x="1894.3" y="1002.1" font-size="19" fill="#ffffff" textLength="35.16" lengthAdjust="spacingAndGlyphs">Po...</text>
<text x="1590.11" y="1109.8" font-size="19" fill="#ffffff" textLength="52.42" lengthAdjust="spacingAndGlyphs">Currus</text>
<text x="1589.88" y="1143.6" font-size="15" fill="#ffffff" textLength="27.22" lengthAdjust="spacingAndGlyphs">East</text>
<text x="1590.94" y="1183.6" font-size="15" fill="#ffffff" textLength="32.77" lengthAdjust="spacingAndGlyphs">West</text>
<text x="1735.64" y="1109.8" font-size="19" fill="#ffffff" textLength="42.36" lengthAdjust="spacingAndGlyphs">Fama</text>
<text x="1735.53" y="1164.5" font-size="19" fill="#ffffff" textLength="29.92" lengthAdjust="spacingAndGlyphs">Leo</text>
<text x="1841.39" y="1109.8" font-size="19" fill="#ffffff" textLength="45.91" lengthAdjust="spacingAndGlyphs">Barba</text>
<text x="1842.04" y="1174.8" font-size="19" fill="#ffffff" textLength="50.16" lengthAdjust="spacingAndGlyphs">Salvus</text>
</g>
</svg>
</body>
</html>
